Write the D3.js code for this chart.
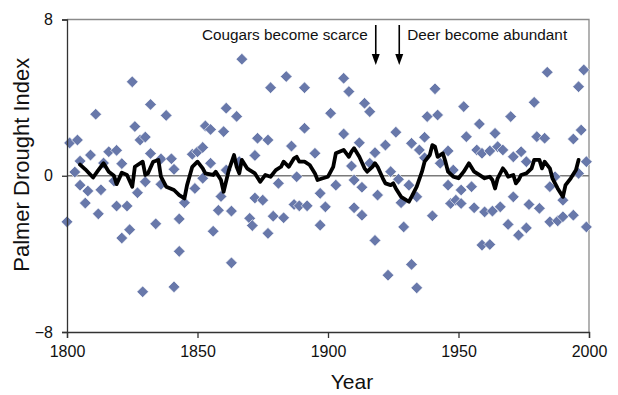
<!DOCTYPE html>
<html>
<head>
<meta charset="utf-8">
<script src="https://cdn.jsdelivr.net/npm/d3@7"></script>
<style>
  body { margin: 0; background: #fff; }
  svg { display: block; font-family: "Liberation Sans", Arial, sans-serif; }
  .axis path, .axis line { stroke: #333; stroke-width: 1.3; }
  .axis text { font-size: 16px; fill: #111; }
</style>
</head>
<body>
<svg id="chart" width="618" height="395"></svg>
<script>
// yearly Palmer Drought Index readings
const pdsiYears = [1800,1801,1803,1804,1805,1805,1807,1808,1809,1811,1812,1813,1814,1816,1818,1819,1819,1821,1821,1823,
  1824,1825,1826,1827,1828,1829,1830,1830,1832,1832,1834,1836,1836,1838,1840,1841,1841,1843,1843,1845,
  1848,1849,1850,1852,1852,1853,1855,1855,1856,1858,1859,1860,1861,1861,1863,1863,1865,1866,1867,1870,
  1871,1872,1872,1873,1875,1877,1877,1878,1879,1881,1883,1884,1886,1887,1888,1889,1891,1891,1892,1895,
  1897,1897,1899,1901,1903,1906,1906,1908,1909,1910,1910,1912,1913,1913,1914,1916,1916,1918,1918,1919,
  1922,1923,1924,1926,1927,1928,1929,1931,1932,1932,1934,1934,1935,1937,1937,1938,1940,1941,1942,1943,
  1946,1946,1947,1948,1949,1951,1951,1952,1953,1955,1956,1957,1958,1959,1959,1960,1962,1962,1963,1964,
  1965,1966,1967,1969,1970,1971,1971,1973,1974,1976,1976,1977,1979,1980,1981,1983,1984,1985,1985,1987,
  1988,1990,1990,1994,1994,1996,1996,1997,1998,1999,1999];
const pdsiValues = [-2.36,1.68,0.19,1.83,0.75,-0.48,-1.40,-0.78,1.06,3.15,-1.95,-0.72,0.65,1.23,-0.27,1.30,-1.55,0.62,-3.19,-1.55,
  -2.76,4.81,2.52,-0.87,1.83,-5.94,1.98,-0.31,3.65,1.14,-2.46,0.86,-0.44,3.09,0.87,-5.69,0.33,-2.21,-3.87,-1.38,
  1.10,-0.65,1.23,1.45,-0.13,2.55,2.37,0.64,-2.84,-1.77,-1.06,2.26,0.29,3.46,-1.81,-4.46,3.04,0.72,5.97,-2.18,
  -2.55,1.04,-1.14,1.92,-1.25,1.83,-2.95,4.51,-2.07,-0.39,-2.15,5.08,1.52,-1.47,-0.05,-1.54,2.43,4.51,-1.54,1.15,
  -0.90,-2.53,-1.59,3.20,-0.48,4.99,2.14,4.31,0.50,-0.22,-1.64,1.69,-2.02,-0.59,3.71,3.28,0.64,1.18,-3.31,-0.99,
  1.57,-5.09,0.21,2.23,-0.18,-1.38,-2.62,-0.48,-4.54,1.66,-1.08,-5.74,1.32,0.92,1.97,3.03,-2.05,4.45,3.11,0.64,
  1.27,-0.48,-1.42,0.29,-1.25,-1.42,-0.73,3.54,2.00,-0.56,-1.64,1.32,2.65,1.15,-3.55,-1.85,-3.52,1.27,-1.81,2.17,
  1.49,-1.59,1.32,-2.49,3.03,0.97,-1.08,-3.04,1.23,0.72,-2.67,-1.47,3.76,2.00,-1.67,1.92,5.30,-0.56,-2.36,-0.05,
  -2.31,-1.25,-2.10,-2.02,1.88,4.56,0.12,2.34,5.42,-2.62,0.72];

// smoothed curve
const trendYears = [1805,1807,1810,1812,1814,1816,1818,1819,1821,1823,1825,1826,1829,1830,1831,1833,1835,1836,1838,1841,
  1843,1845,1846,1848,1850,1852,1853,1856,1857,1859,1860,1862,1864,1865,1866,1867,1869,1870,1872,1874,
  1876,1878,1880,1882,1883,1885,1887,1888,1889,1891,1893,1895,1896,1898,1900,1902,1903,1906,1908,1909,
  1910,1912,1914,1915,1917,1918,1919,1921,1922,1924,1925,1926,1928,1930,1931,1932,1934,1936,1937,1939,
  1940,1941,1942,1944,1945,1946,1948,1950,1952,1954,1956,1958,1960,1962,1963,1964,1965,1967,1968,1969,
  1971,1972,1973,1974,1976,1978,1979,1981,1982,1983,1985,1986,1988,1990,1991,1993,1995,1996];
const trendValues = [0.57,0.33,-0.09,0.29,0.64,0.21,0.00,-0.43,0.16,0.04,-0.56,0.46,0.72,0.04,0.12,0.72,0.81,-0.05,-0.56,-0.73,
  -0.99,-1.16,-0.48,0.46,0.72,0.38,0.12,0.04,0.21,-0.22,-0.82,0.29,1.06,0.46,0.12,0.81,0.38,0.29,0.12,-0.31,
  0.04,-0.05,0.29,0.46,0.72,0.46,0.89,0.97,0.72,0.72,0.55,0.12,-0.22,-0.13,-0.05,0.46,1.15,1.32,0.97,1.23,
  1.41,0.97,0.38,0.21,0.46,0.64,0.46,-0.13,-0.39,-0.48,-0.39,-0.65,-1.08,-1.25,-1.33,-1.08,-0.56,0.21,0.72,1.06,
  1.57,1.49,0.97,1.15,0.72,0.21,-0.05,-0.13,0.21,0.64,0.21,0.04,-0.13,-0.05,-0.22,-0.65,-0.13,0.38,0.21,-0.05,
  0.04,-0.39,-0.22,0.04,0.12,0.38,0.81,0.81,0.38,0.72,0.38,-0.13,-0.65,-1.08,-0.48,-0.13,0.29,0.81];

const xTicks = [1800, 1850, 1900, 1950, 2000];
const yTicks = [-8, 0, 8];
const eventYears = [1918.3, 1927.3];
const eventLabels = ["Cougars become scarce", "Deer become abundant"];

const svg = d3.select("#chart");
const margin = { top: 19.5, right: 29, bottom: 63, left: 67 };
const width = 618, height = 395;

const x = d3.scaleLinear().domain([1800, 2000]).range([margin.left, width - margin.right]);
const y = d3.scaleLinear().domain([-8, 8]).range([height - margin.bottom, margin.top]);

// frame (top and right)
svg.append("path")
  .attr("d", `M${x(1800)},${y(8)}H${x(2000)}V${y(-8)}`)
  .attr("fill", "none").attr("stroke", "#8a8a8a").attr("stroke-width", 1.3);

// zero line
svg.append("line")
  .attr("x1", x(1800)).attr("x2", x(2000))
  .attr("y1", y(0)).attr("y2", y(0))
  .attr("stroke", "#7a7a7a").attr("stroke-width", 1.4);

// points
const pts = pdsiYears.map((yr, i) => ({ year: yr, value: pdsiValues[i] }));
const diamond = d3.symbol().type(d3.symbolSquare).size(68);
svg.append("g").selectAll("path")
  .data(pts).enter().append("path")
  .attr("d", diamond)
  .attr("transform", d => `translate(${x(d.year)},${y(d.value)}) rotate(45)`)
  .attr("fill", "#6878aa")
  .attr("stroke", "#fff").attr("stroke-width", 0.6);

// smoothed line
const trend = trendYears.map((yr, i) => ({ year: yr, value: trendValues[i] }));
svg.append("path")
  .datum(trend)
  .attr("d", d3.line().x(d => x(d.year)).y(d => y(d.value)))
  .attr("fill", "none").attr("stroke", "#000")
  .attr("stroke-width", 3.8).attr("stroke-linejoin", "round").attr("stroke-linecap", "round");

// axes
svg.append("g").attr("class", "axis")
  .attr("transform", `translate(0,${y(-8)})`)
  .call(d3.axisBottom(x).tickValues(xTicks).tickFormat(d3.format("d")).tickSizeOuter(0).tickSize(6).tickPadding(8));

svg.append("g").attr("class", "axis")
  .attr("transform", `translate(${x(1800)},0)`)
  .call(d3.axisLeft(y).tickValues(yTicks).tickSizeOuter(0).tickSize(5).tickPadding(9));

// axis titles
svg.append("text")
  .attr("x", 352).attr("y", 389)
  .attr("text-anchor", "middle").attr("font-size", 21).attr("fill", "#111")
  .text("Year");

svg.append("text")
  .attr("transform", `translate(29,${(y(8) + y(-8)) / 2 - 11}) rotate(-90)`)
  .attr("text-anchor", "middle").attr("font-size", 22).attr("fill", "#111")
  .text("Palmer Drought Index");

// event arrows
const ev = svg.append("g");
eventYears.forEach((yr, i) => {
  const ax = x(yr);
  ev.append("line")
    .attr("x1", ax).attr("x2", ax).attr("y1", 25).attr("y2", 58)
    .attr("stroke", "#000").attr("stroke-width", 1.6);
  ev.append("path")
    .attr("d", `M${ax - 4},${54}L${ax},${65}L${ax + 4},${54}Z`)
    .attr("fill", "#000");
  ev.append("text")
    .attr("x", i === 0 ? ax - 8 : ax + 8).attr("y", 40)
    .attr("text-anchor", i === 0 ? "end" : "start")
    .attr("font-size", 15.3).attr("fill", "#111")
    .text(eventLabels[i]);
});
</script>
</body>
</html>
